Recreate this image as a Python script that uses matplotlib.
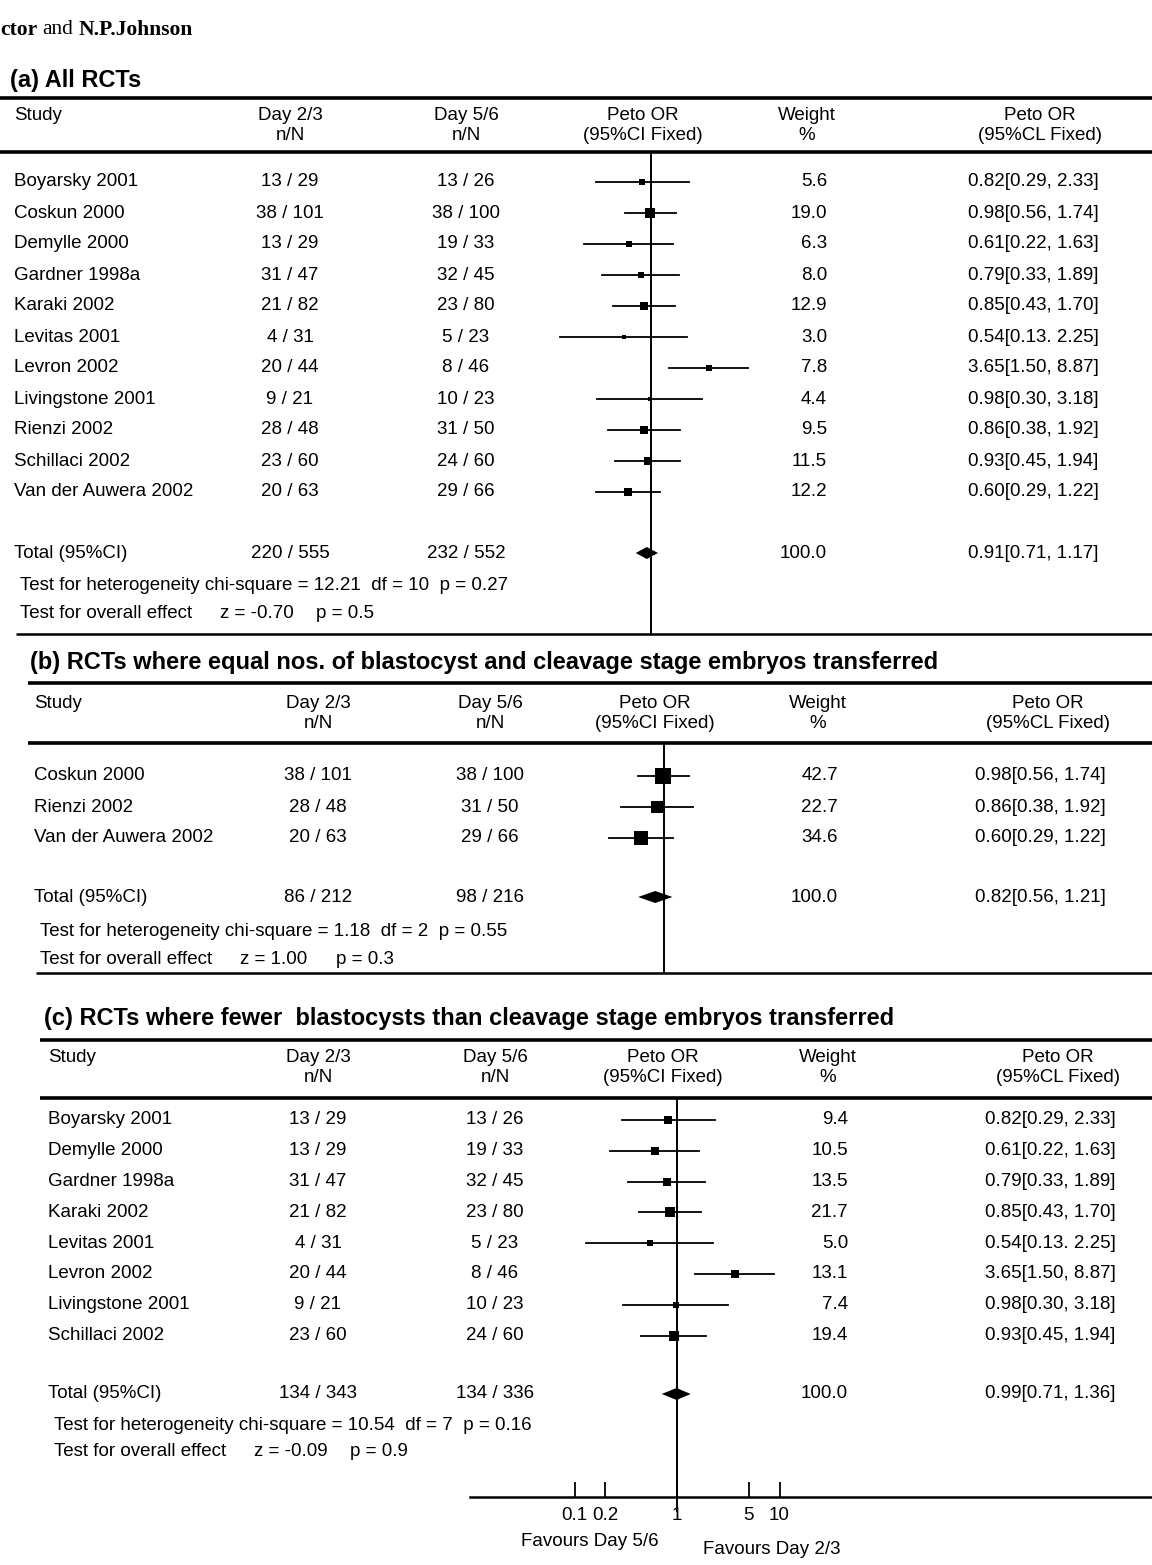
import matplotlib.pyplot as plt
from matplotlib import font_manager
from matplotlib.ticker import NullLocator
import numpy as np

# (a) all RCTs
studies_a = ['Boyarsky 2001', 'Coskun 2000', 'Demylle 2000', 'Gardner 1998a', 'Karaki 2002',
             'Levitas 2001', 'Levron 2002', 'Livingstone 2001', 'Rienzi 2002', 'Schillaci 2002',
             'Van der Auwera 2002']
ev23_a = [13, 38, 13, 31, 21, 4, 20, 9, 28, 23, 20]
n23_a = [29, 101, 29, 47, 82, 31, 44, 21, 48, 60, 63]
ev56_a = [13, 38, 19, 32, 23, 5, 8, 10, 31, 24, 29]
n56_a = [26, 100, 33, 45, 80, 23, 46, 23, 50, 60, 66]
weight_a = [5.6, 19.0, 6.3, 8.0, 12.9, 3.0, 7.8, 4.4, 9.5, 11.5, 12.2]
or_a = [0.82, 0.98, 0.61, 0.79, 0.85, 0.54, 3.65, 0.98, 0.86, 0.93, 0.60]
lo_a = [0.29, 0.56, 0.22, 0.33, 0.43, 0.13, 1.50, 0.30, 0.38, 0.45, 0.29]
hi_a = [2.33, 1.74, 1.63, 1.89, 1.70, 2.25, 8.87, 3.18, 1.92, 1.94, 1.22]
total_a = [220, 555, 232, 552]
pooled_a = [0.91, 0.71, 1.17]
het_a = 'Test for heterogeneity chi-square = 12.21  df = 10  p = 0.27'
eff_a = ['z = -0.70', 'p = 0.5']

# (b) equal numbers transferred
studies_b = ['Coskun 2000', 'Rienzi 2002', 'Van der Auwera 2002']
ev23_b = [38, 28, 20]
n23_b = [101, 48, 63]
ev56_b = [38, 31, 29]
n56_b = [100, 50, 66]
weight_b = [42.7, 22.7, 34.6]
or_b = [0.98, 0.86, 0.60]
lo_b = [0.56, 0.38, 0.29]
hi_b = [1.74, 1.92, 1.22]
total_b = [86, 212, 98, 216]
pooled_b = [0.82, 0.56, 1.21]
het_b = 'Test for heterogeneity chi-square = 1.18  df = 2  p = 0.55'
eff_b = ['z = 1.00', 'p = 0.3']

# (c) fewer blastocysts transferred
studies_c = ['Boyarsky 2001', 'Demylle 2000', 'Gardner 1998a', 'Karaki 2002', 'Levitas 2001',
             'Levron 2002', 'Livingstone 2001', 'Schillaci 2002']
ev23_c = [13, 13, 31, 21, 4, 20, 9, 23]
n23_c = [29, 29, 47, 82, 31, 44, 21, 60]
ev56_c = [13, 19, 32, 23, 5, 8, 10, 24]
n56_c = [26, 33, 45, 80, 23, 46, 23, 60]
weight_c = [9.4, 10.5, 13.5, 21.7, 5.0, 13.1, 7.4, 19.4]
or_c = [0.82, 0.61, 0.79, 0.85, 0.54, 3.65, 0.98, 0.93]
lo_c = [0.29, 0.22, 0.33, 0.43, 0.13, 1.50, 0.30, 0.45]
hi_c = [2.33, 1.63, 1.89, 1.70, 2.25, 8.87, 3.18, 1.94]
total_c = [134, 343, 134, 336]
pooled_c = [0.99, 0.71, 1.36]
het_c = 'Test for heterogeneity chi-square = 10.54  df = 7  p = 0.16'
eff_c = ['z = -0.09', 'p = 0.9']

# the Levitas row is printed with a full stop between the limits
odd_sep = {'a': [5], 'b': [], 'c': [4]}

x_ticks = [0.1, 0.2, 1, 5, 10]
x_ticklabels = ['0.1', '0.2', '1', '5', '10']

W, H = 1152, 1565
DEC = 102.5  # pixels per decade of odds ratio

names = {f.name for f in font_manager.fontManager.ttflist}
if 'Liberation Sans Narrow' in names:
    body = dict(family=['Liberation Sans Narrow', 'DejaVu Sans'], size=16)
    head = dict(family=['Liberation Sans Narrow', 'DejaVu Sans'], size=20, weight='bold')
else:
    body = dict(family=['Liberation Sans', 'DejaVu Sans'], size=13.5)
    head = dict(family=['Liberation Sans', 'DejaVu Sans'], size=17, weight='bold')

fig = plt.figure(figsize=(W / 100, H / 100), dpi=100)
fig.patch.set_facecolor('white')
page = fig.add_axes([0, 0, 1, 1])
page.set_xlim(0, W)
page.set_ylim(H, 0)
page.axis('off')


def txt(x, y, s, ha='left', font=body, **kw):
    page.text(x, y, s, ha=ha, va='center', **font, **kw)


def rule(y, x0, lw=2.6):
    page.plot([x0, W], [y, y], color='black', lw=lw, solid_capstyle='butt')


def ci_label(o, lo, hi, sep=', '):
    return '%.2f[%.2f%s%.2f]' % (o, lo, sep, hi)


def forest_axes(one_x):
    ax = fig.add_axes([0, 0, 1, 1], facecolor='none')
    ax.set_xscale('log')
    ax.set_xlim(10 ** (-one_x / DEC), 10 ** ((W - one_x) / DEC))
    ax.set_ylim(H, 0)
    ax.axis('off')
    return ax


def section(key, title, studies, ev23, n23, ev56, n56, weight, ors, los, his,
            total, pooled, het, eff, lay):
    x0 = lay['x0']
    txt(x0 - 4, lay['title'], title, font=head)
    rule(lay['top'], lay['rule_x'])
    h1, h2 = lay['head'], lay['head'] + 20
    txt(x0, h1, 'Study')
    for cx, l1, l2 in [(lay['c23'], 'Day 2/3', 'n/N'), (lay['c56'], 'Day 5/6', 'n/N'),
                       (lay['cpeto'], 'Peto OR', '(95%CI Fixed)'),
                       (lay['wr'] - 20, 'Weight', '%'),
                       (lay['cor'], 'Peto OR', '(95%CL Fixed)')]:
        txt(cx, h1, l1, ha='center')
        txt(cx, h2, l2, ha='center')
    rule(lay['hrule'], lay['rule_x'])

    ax = forest_axes(lay['one_x'])
    ys = lay['row0'] + lay['step'] * np.arange(len(studies))
    for i, y in enumerate(ys):
        txt(x0, y, studies[i])
        txt(lay['c23'], y, '%d / %d' % (ev23[i], n23[i]), ha='center')
        txt(lay['c56'], y, '%d / %d' % (ev56[i], n56[i]), ha='center')
        txt(lay['wr'], y, '%.1f' % weight[i], ha='right')
        sep = '. ' if i in odd_sep[key] else ', '
        txt(lay['orx'], y, ci_label(ors[i], los[i], his[i], sep))
        ax.plot([los[i], his[i]], [y, y], color='black', lw=1.3)
        ax.plot(ors[i], y, marker='s', ms=max(3.2, 1.7 * np.sqrt(weight[i])),
                color='black', mew=0)

    yt = lay['total']
    txt(x0, yt, 'Total (95%CI)')
    txt(lay['c23'], yt, '%d / %d' % (total[0], total[1]), ha='center')
    txt(lay['c56'], yt, '%d / %d' % (total[2], total[3]), ha='center')
    txt(lay['wr'], yt, '%.1f' % 100.0, ha='right')
    txt(lay['orx'], yt, ci_label(*pooled))
    o, lo, hi = pooled
    ax.fill([lo, o, hi, o], [yt, yt - 6, yt, yt + 6], color='black', lw=0)

    txt(x0 + 6, lay['het'], het)
    txt(x0 + 6, lay['eff'], 'Test for overall effect')
    txt(x0 + 206, lay['eff'], eff[0])
    txt(x0 + 302, lay['eff'], eff[1])

    ax.plot([1, 1], [lay['hrule'], lay['vend']], color='black', lw=1.4)
    if lay.get('brule'):
        rule(lay['brule'], x0 + 2, lw=1.8)


section('a', '(a) All RCTs', studies_a, ev23_a, n23_a, ev56_a, n56_a, weight_a,
        or_a, lo_a, hi_a, total_a, pooled_a, het_a, eff_a,
        dict(x0=14, rule_x=0, title=80, top=98, head=116, hrule=152, row0=182, step=31,
             total=553, het=586, eff=614, brule=634, vend=634,
             c23=290, c56=466, cpeto=643, wr=827, orx=968, cor=1040, one_x=651))

section('b', '(b) RCTs where equal nos. of blastocyst and cleavage stage embryos transferred',
        studies_b, ev23_b, n23_b, ev56_b, n56_b, weight_b,
        or_b, lo_b, hi_b, total_b, pooled_b, het_b, eff_b,
        dict(x0=34, rule_x=28, title=663, top=683, head=704, hrule=743, row0=776, step=31,
             total=897, het=931, eff=960, brule=973, vend=973,
             c23=318, c56=490, cpeto=655, wr=838, orx=975, cor=1048, one_x=664))

axis_y = 1497
section('c', '(c) RCTs where fewer  blastocysts than cleavage stage embryos transferred',
        studies_c, ev23_c, n23_c, ev56_c, n56_c, weight_c,
        or_c, lo_c, hi_c, total_c, pooled_c, het_c, eff_c,
        dict(x0=48, rule_x=40, title=1018, top=1040, head=1057, hrule=1098, row0=1120,
             step=30.8, total=1394, het=1425, eff=1452, vend=axis_y + 14,
             c23=318, c56=495, cpeto=663, wr=848, orx=985, cor=1058, one_x=677))

# odds-ratio scale under section (c)
ax0 = 470
xa = fig.add_axes([ax0 / W, (H - axis_y) / H, (W - ax0) / W, 20 / H], facecolor='none')
xa.set_xscale('log')
xa.set_xlim(10 ** ((ax0 - 677) / DEC), 10 ** ((W - 677) / DEC))
for s in ['top', 'left', 'right']:
    xa.spines[s].set_visible(False)
xa.spines['bottom'].set_linewidth(1.8)
xa.set_yticks([])
xa.set_xticks(x_ticks)
xa.set_xticklabels(x_ticklabels)
xa.xaxis.set_minor_locator(NullLocator())
xa.tick_params(axis='x', direction='in', length=11, width=1.3, pad=7)
for lab in xa.get_xticklabels():
    lab.set_fontfamily(body['family'])
    lab.set_fontsize(body['size'])

txt(590, 1541, 'Favours Day 5/6', ha='center')
txt(772, 1549, 'Favours Day 2/3', ha='center')

# running head
serif = ['Liberation Serif', 'DejaVu Serif']
page.text(0, 30, 'ctor', ha='left', va='center', family=serif, size=15.5, weight='bold')
page.text(42, 30, 'and', ha='left', va='center', family=serif, size=15.5)
page.text(79, 30, 'N.P.Johnson', ha='left', va='center', family=serif, size=15.5, weight='bold')

fig.savefig('out.png', dpi=100, facecolor='white')
